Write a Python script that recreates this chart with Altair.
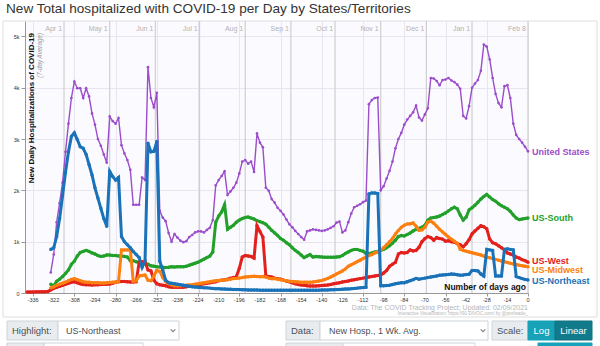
import altair as alt
import pandas as pd

# ---------------- data ----------------
title_text = "New Total hospitalized with COVID-19 per Day by States/Territories"
series_names = ["United States", "US-South", "US-West", "US-Midwest", "US-Northeast"]
series_colors = ["#9b4dca", "#22a12a", "#e3211c", "#fd7f10", "#1a72b8"]
series_start = [-324, -324, -340, -324, -324]
label_values = [2750, 1460, 615, 445, 240]

us_values = [
    400, 750, 1380, 1750, 2150, 2750, 3300, 3800, 4120, 3990,
    3990, 3800, 3990, 3830, 3500, 3280, 3000, 2870, 2700, 2540,
    3440, 3350, 3300, 3410, 2880, 2720, 2590, 2400, 1720, 1720,
    1720, 2250, 2200, 4400, 3800, 3620, 3900, 1600, 1470, 1400,
    1170, 1000, 1150, 1080, 1020, 990, 1010, 1090, 1130, 1180,
    1200, 1200, 1180, 1230, 1270, 1420, 2100, 2200, 2280, 2370,
    1910, 1980, 2050, 2150, 2330, 2560, 2590, 2520, 2560, 2360,
    3110, 2930, 2840, 2050, 1990, 1830, 1760, 1660, 1600, 1530,
    1430, 1340, 1280, 1210, 1150, 1090, 1040, 1200, 1220, 1240,
    1230, 1220, 1210, 1220, 1240, 1270, 1300, 1370, 1390, 1180,
    1220, 1380, 1550, 1670, 1700, 1730, 1770, 1800, 3680, 3760,
    3800, 3810, 2000, 2080, 2230, 2380, 2560, 2820, 3000, 3120,
    3280, 3380, 3450, 3520, 3650, 3420, 3360, 3480, 3600, 4190,
    4180, 4130, 4050, 4150, 4160, 4190, 4140, 4110, 4060, 3980,
    3450, 3400, 3640, 4000, 4080, 4150, 4330, 4840, 4800, 4550,
    4190, 3880, 3700, 3620, 4030, 4050, 3800, 3300, 3080, 3000,
    2930, 2850, 2760,
]
south_values = [
    170, 140, 230, 270, 320, 380, 450, 560, 620, 720,
    790, 810, 830, 810, 780, 760, 730, 710, 720, 740,
    740, 730, 730, 720, 720, 710, 700, 630, 630, 610,
    600, 580, 570, 560, 530, 520, 510, 505, 500, 495,
    500, 510, 505, 510, 510, 510, 520, 540, 560, 580,
    600, 630, 660, 690, 720, 800, 1380, 1500, 1580, 1720,
    1240, 1280, 1320, 1380, 1420, 1450, 1470, 1480, 1460, 1440,
    1410, 1390, 1370, 1340, 1280, 1220, 1170, 1120, 1060, 1030,
    980, 940, 880, 830, 790, 740, 690, 720, 750, 700,
    710, 705, 700, 695, 695, 695, 695, 700, 705, 730,
    770, 800, 830, 850, 850, 830, 815, 770, 770, 780,
    800, 810, 830, 850, 880, 920, 970, 1030, 1100, 1120,
    1110, 1140, 1170, 1210, 1240, 1260, 1280, 1320, 1420, 1460,
    1470, 1480, 1500, 1530, 1560, 1600, 1640, 1670, 1640, 1520,
    1420, 1480, 1620, 1660, 1710, 1770, 1830, 1880, 1920, 1870,
    1820, 1790, 1740, 1700, 1670, 1640, 1590, 1520, 1460, 1430,
    1440, 1450, 1460,
]
west_values = [
    20, 20, 20, 22, 22, 25, 25, 30, 60, 90,
    110, 130, 150, 170, 190, 210, 220, 200, 180, 165,
    160, 160, 155, 160, 160, 165, 170, 170, 175, 190,
    210, 220, 225, 225, 220, 215, 215, 220, 600, 610,
    600, 450, 430, 250, 180, 160, 150, 140, 120, 110,
    110, 110, 110, 110, 120, 130, 140, 150, 160, 170,
    180, 190, 200, 210, 220, 240, 250, 260, 270, 290,
    300, 320, 480, 700, 730, 720, 710, 680, 1310, 1200,
    1090, 340, 320, 310, 290, 280, 270, 250, 235, 220,
    200, 180, 165, 155, 150, 140, 135, 135, 135, 140,
    145, 150, 155, 165, 180, 190, 200, 215, 225, 235,
    250, 260, 270, 280, 290, 300, 310, 320, 330, 340,
    350, 390, 440, 520, 560, 600, 760, 790, 780, 790,
    840, 820, 830, 890, 1000, 1060, 1100, 1080, 1030, 1080,
    1060, 1050, 1010, 1020, 1000, 990, 960, 940, 900, 960,
    1040, 1150, 1210, 1260, 1310, 1290, 1250, 1050, 980, 960,
    920, 880, 840, 780, 760, 740, 700, 680, 650, 630,
    600,
]
midwest_values = [
    100, 120, 150, 170, 190, 210, 240, 265, 280, 260,
    240, 220, 210, 210, 200, 200, 200, 195, 195, 200,
    205, 210, 215, 220, 840, 840, 840, 840, 230, 240,
    330, 340, 350, 250, 240, 330, 440, 420, 300, 220,
    180, 160, 140, 140, 140, 145, 150, 155, 160, 170,
    180, 190, 200, 210, 220, 230, 240, 245, 250, 255,
    260, 270, 280, 285, 290, 300, 310, 315, 320, 325,
    320, 315, 320, 310, 290, 280, 280, 270, 260, 250,
    240, 230, 225, 220, 215, 210, 208, 208, 210, 215,
    222, 232, 245, 262, 285, 310, 340, 370, 400, 430,
    470, 520, 550, 580, 610, 640, 670, 700, 730, 750,
    780, 800, 840, 880, 940, 1000, 1060, 1150, 1220, 1280,
    1320, 1345, 1350, 1365, 1300, 1220, 1230, 1280, 1380, 1400,
    1360, 1300, 1240, 1190, 1140, 1090, 1050, 1010, 970, 850,
    830, 815, 800, 785, 770, 755, 740, 720, 700, 685,
    670, 655, 640, 625, 610, 595, 580, 567, 555, 542,
    530, 520, 510,
]
northeast_values = [
    850, 880, 1100, 1450, 1900, 2350, 2750, 3050, 3120, 2990,
    2850, 2820, 2700, 2500, 2300, 2050, 1850, 1650, 1450, 1300,
    2370, 2270, 2200, 2250, 1100, 1000, 940, 880, 810, 750,
    690, 500, 630, 2920, 2750, 2760, 2950, 620, 450, 250,
    200, 190, 180, 170, 160, 150, 140, 130, 120, 115,
    110, 105, 100, 100, 95, 90, 85, 85, 80, 78,
    75, 72, 70, 68, 66, 64, 62, 60, 58, 58,
    57, 56, 55, 55, 54, 54, 53, 53, 52, 52,
    52, 52, 52, 52, 52, 52, 52, 52, 53, 54,
    55, 56, 57, 58, 60, 62, 64, 66, 68, 72,
    76, 80, 85, 90, 95, 100, 105, 110, 1930, 1950,
    1950, 1940, 140, 140, 145, 150, 165, 180, 190, 200,
    200, 220, 240, 260, 285, 270, 280, 290, 300, 310,
    320, 330, 345, 350, 355, 360, 370, 365, 355, 345,
    350, 360, 365, 440, 440, 430, 370, 330, 850, 840,
    830, 330, 330, 330, 850, 860, 850, 840, 320, 300,
    280, 265, 255,
]

x_ticks = list(range(-336, 1, 14))
y_ticks = list(range(0, 5001, 500))
month_days = [-315, -284, -253, -223, -192, -161, -131, -100, -69, -38, 0]
month_labels = ["Apr 1", "May 1", "Jun 1", "Jul 1", "Aug 1", "Sep 1",
                "Oct 1", "Nov 1", "Dec 1", "Jan 1", "Feb 8"]

# ---------------- build tables ----------------
all_values = [us_values, south_values, west_values, midwest_values, northeast_values]
rows = []
for name, start, vals in zip(series_names, series_start, all_values):
    for i, v in enumerate(vals):
        rows.append({"series": name, "day": start + 2 * i, "value": v})
df = pd.DataFrame(rows)

labels_df = pd.DataFrame({"series": series_names, "day": [0] * 5,
                          "value": label_values, "color": series_colors})
months_df = pd.DataFrame({"day": month_days, "label": month_labels})
xticks_df = pd.DataFrame({"day": x_ticks, "label": [str(t) for t in x_ticks]})
one = pd.DataFrame({"a": [0]})

FONT = "Liberation Sans"
W, H = 503, 272
x_scale = alt.Scale(domain=[-341.5, 0], nice=False, zero=False)
y_scale = alt.Scale(domain=[0, 5300], nice=False)

# ---------------- layers ----------------
layers = []

# container box
layers.append(alt.Chart(one).mark_rect(fill=None, stroke="#dedede", strokeWidth=1).encode(
    x=alt.value(-22), x2=alt.value(572), y=alt.value(0), y2=alt.value(296)))

# month lines + labels
layers.append(alt.Chart(months_df).mark_rule(color="#cfcfcf", strokeWidth=1.2).encode(
    x=alt.X("day:Q", scale=x_scale)))
layers.append(alt.Chart(months_df).mark_text(
    align="right", baseline="middle", dx=-2, fontSize=7, font=FONT, color="#b3b3b3").encode(
    x=alt.X("day:Q", scale=x_scale), y=alt.value(8), text="label:N"))

# series lines
for name, col in zip(series_names, series_colors):
    thin = name == "United States"
    ch = alt.Chart(df).transform_filter(alt.datum.series == name).mark_line(
        color=col, strokeWidth=1.4 if thin else 3.0,
        point=alt.OverlayMarkDef(filled=True, color=col, size=7 if thin else 12),
    ).encode(
        x=alt.X("day:Q", scale=x_scale,
                axis=alt.Axis(values=x_ticks, title=None, labels=False,
                              tickSize=3, tickColor="#999",
                              domainColor="#999", grid=True, gridColor="#e8e5f0")),
        y=alt.Y("value:Q", scale=y_scale,
                axis=alt.Axis(values=y_ticks, title=None, labelFontSize=5.5, labelFont=FONT,
                              labelColor="#333", tickSize=4, tickColor="#999",
                              domainColor="#999", grid=True, gridColor="#e8e5f0",
                              labelPadding=2, labelOverlap=False,
                              labelExpr="datum.value >= 1000 ? (datum.value/1000) + 'k' : datum.value + ''")),
    )
    layers.append(ch)

# x tick labels (drawn as text so that every one shows)
layers.append(alt.Chart(xticks_df).mark_text(
    align="center", baseline="middle", fontSize=5.5, font=FONT, color="#333").encode(
    x=alt.X("day:Q", scale=x_scale), y=alt.value(H + 7), text="label:N"))

# end labels
layers.append(alt.Chart(labels_df).mark_text(
    align="left", baseline="middle", dx=4, fontSize=9, fontWeight="bold", font=FONT).encode(
    x=alt.X("day:Q", scale=x_scale), y=alt.Y("value:Q", scale=y_scale),
    text="series:N", color=alt.Color("color:N", scale=None)))

# axis titles and annotations
layers.append(alt.Chart(one).mark_text(
    text="New Daily Hospitalizations of COVID-19", angle=270, align="right", baseline="middle",
    fontSize=8, fontWeight="bold", font=FONT, color="#111").encode(
    x=alt.value(6.5), y=alt.value(12)))
layers.append(alt.Chart(one).mark_text(
    text="(7-day Average)", angle=270, align="right", baseline="middle",
    fontSize=6.3, fontStyle="italic", font=FONT, color="#999").encode(
    x=alt.value(15), y=alt.value(12)))
layers.append(alt.Chart(one).mark_text(
    text="Number of days ago", align="right", baseline="middle",
    fontSize=8.5, fontWeight="bold", font=FONT, color="#111").encode(
    x=alt.value(501), y=alt.value(266)))
layers.append(alt.Chart(one).mark_text(
    text="Data: The COVID Tracking Project; Updated: 02/09/2021", align="right", baseline="middle",
    fontSize=7, font=FONT, color="#b5b5b5").encode(x=alt.value(503), y=alt.value(287)))
layers.append(alt.Chart(one).mark_text(
    text="Interactive Visualization: https://91-DIVOC.com/ by @profwade_", align="right",
    baseline="middle", fontSize=4.6, font=FONT, color="#b5b5b5").encode(
    x=alt.value(503), y=alt.value(293)))

# chart title
layers.append(alt.Chart(one).mark_text(
    text=title_text, align="left", baseline="middle", fontSize=13.6, font=FONT,
    color="#333").encode(x=alt.value(-19), y=alt.value(-12)))

# ---------------- UI controls (decoration) ----------------
def box(x1, x2, y1, y2, fill, stroke):
    return alt.Chart(one).mark_rect(fill=fill, stroke=stroke, strokeWidth=1).encode(
        x=alt.value(x1), x2=alt.value(x2), y=alt.value(y1), y2=alt.value(y2))

def label(txt, x, y, color="#495057", align="left", size=9.5, weight="normal"):
    return alt.Chart(one).mark_text(text=txt, align=align, baseline="middle", fontSize=size,
                                    font=FONT, color=color, fontWeight=weight).encode(
        x=alt.value(x), y=alt.value(y))

def chevron(x, y):
    return alt.Chart(one).mark_point(shape="M-1,-0.5L0,0.5L1,-0.5", filled=False,
                                     strokeWidth=1.2, size=22, color="#495057").encode(
        x=alt.value(x), y=alt.value(y))

UY1, UY2, UYM = 300, 319, 309.5
layers += [
    box(-18, 33, UY1, UY2, "#e9ecef", "#ced4da"),
    box(33, 154, UY1, UY2, "#ffffff", "#ced4da"),
    label("Highlight:", -13, UYM),
    label("US-Northeast", 41, UYM, size=9),
    chevron(148, UYM),
    box(261, 295, UY1, UY2, "#e9ecef", "#ced4da"),
    box(295, 463, UY1, UY2, "#ffffff", "#ced4da"),
    label("Data:", 266, UYM),
    label("New Hosp., 1 Wk. Avg.", 304, UYM, size=9),
    chevron(458, UYM),
    box(467, 503, UY1, UY2, "#e9ecef", "#ced4da"),
    label("Scale:", 472, UYM),
    box(503, 530, UY1, UY2, "#17a2b8", "#17a2b8"),
    box(530, 567, UY1, UY2, "#117a8b", "#10707f"),
    label("Log", 516.5, UYM, color="#ffffff", align="center"),
    label("Linear", 548.5, UYM, color="#ffffff", align="center"),
    # tops of the next row of controls, cut off by the window edge
    box(-18, 19, 322, 330, "#e9ecef", "#ced4da"),
    box(19, 118, 322, 330, "#ffffff", "#ced4da"),
    box(261, 318, 322, 330, "#e9ecef", "#ced4da"),
    box(318, 450, 322, 330, "#ffffff", "#ced4da"),
    box(513, 567, 322, 330, "#17a2b8", "#17a2b8"),
]

chart = alt.layer(*layers).properties(
    width=W, height=H,
    autosize=alt.AutoSizeParams(type="none"),
    padding={"left": 25, "top": 21, "right": 72, "bottom": 53},
    background="#ffffff",
).configure_view(fill="#fbfaff", stroke=None)

chart.save("out.html", embed_options={"renderer": "svg", "actions": False})
